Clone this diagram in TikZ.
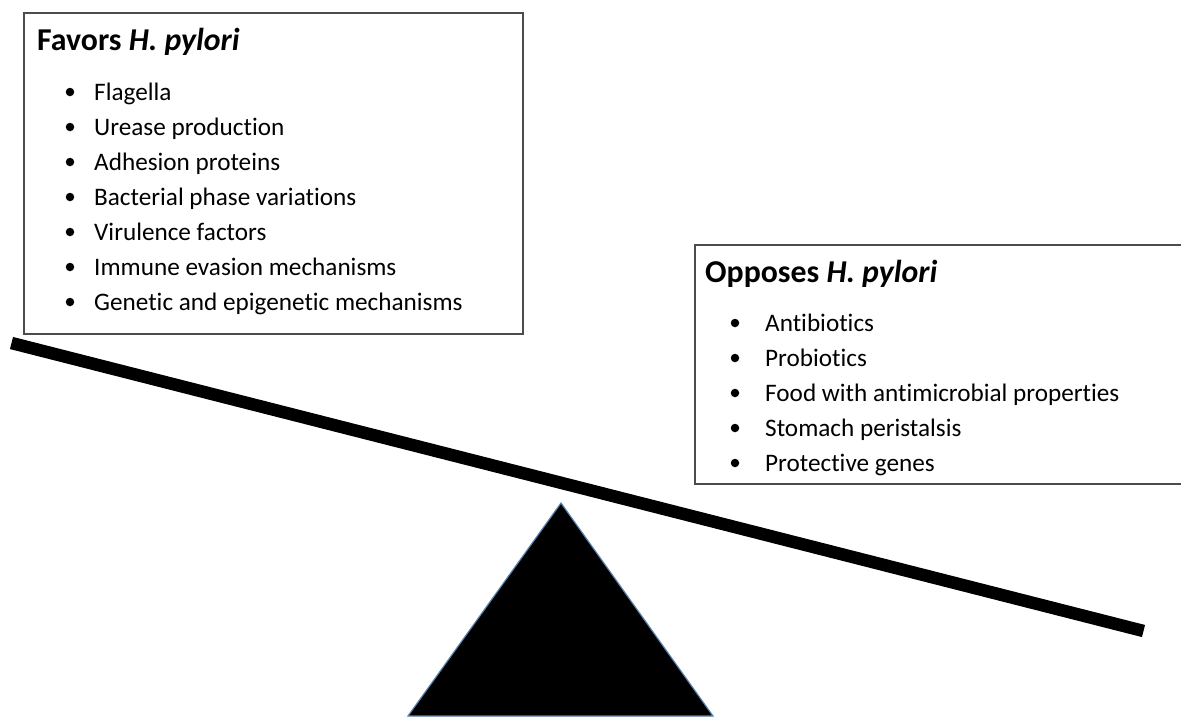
\documentclass[tikz,border=0pt]{standalone}
\usepackage{fontspec}
\setmainfont{Carlito}[Ligatures=NoCommon]
\usetikzlibrary{positioning,calc}
\definecolor{pivotedge}{HTML}{5A82AE}

\begin{document}
\begin{tikzpicture}[x=1pt,y=-1pt,
  listbox/.style={draw=black!70,line width=1.2pt},
  boxtitle/.style={anchor=base west,inner sep=0pt,font=\fontsize{31.8}{34}\selectfont\bfseries},
  boxitem/.style={anchor=base west,inner sep=0pt,font=\fontsize{25.2}{30}\selectfont},
  bulletdot/.style={fill=black,circle,inner sep=0pt,minimum size=8.5pt}]
  \useasboundingbox (0,0) rectangle (1181,716);
  % favoring side
  \draw[listbox] (24,13) rectangle (523,334);
  \node[boxtitle] (favtitle) at (37,50) {Favors \textit{H. pylori}};
  \foreach \entry [count=\i] in {Flagella,Urease production,Adhesion proteins,Bacterial phase variations,Virulence factors,Immune evasion mechanisms,Genetic and epigenetic mechanisms}{
    \node[bulletdot] (favdot\i) at (70,{57+35*\i}) {};
    \node[boxitem] (fav\i) at (94,{65+35*\i}) {\entry};
  }
  % opposing side (runs off the right edge)
  \draw[listbox] (1200,245) -- (695,245) -- (695,484) -- (1200,484);
  \node[boxtitle] (opptitle) at (705,282) {Opposes \textit{H. pylori}};
  \foreach \entry [count=\i] in {Antibiotics,Probiotics,Food with antimicrobial properties,Stomach peristalsis,Protective genes}{
    \node[bulletdot] (oppdot\i) at (735,{288+35*\i}) {};
    \node[boxitem] (opp\i) at (765,{296+35*\i}) {\entry};
  }
  % beam and pivot
  \draw[line width=12.5pt] (11.5,343) -- (1143.5,631);
  \filldraw[fill=black,draw=pivotedge,line width=1.2pt] (561,503) -- (713,716) -- (408,716) -- cycle;
\end{tikzpicture}
\end{document}
